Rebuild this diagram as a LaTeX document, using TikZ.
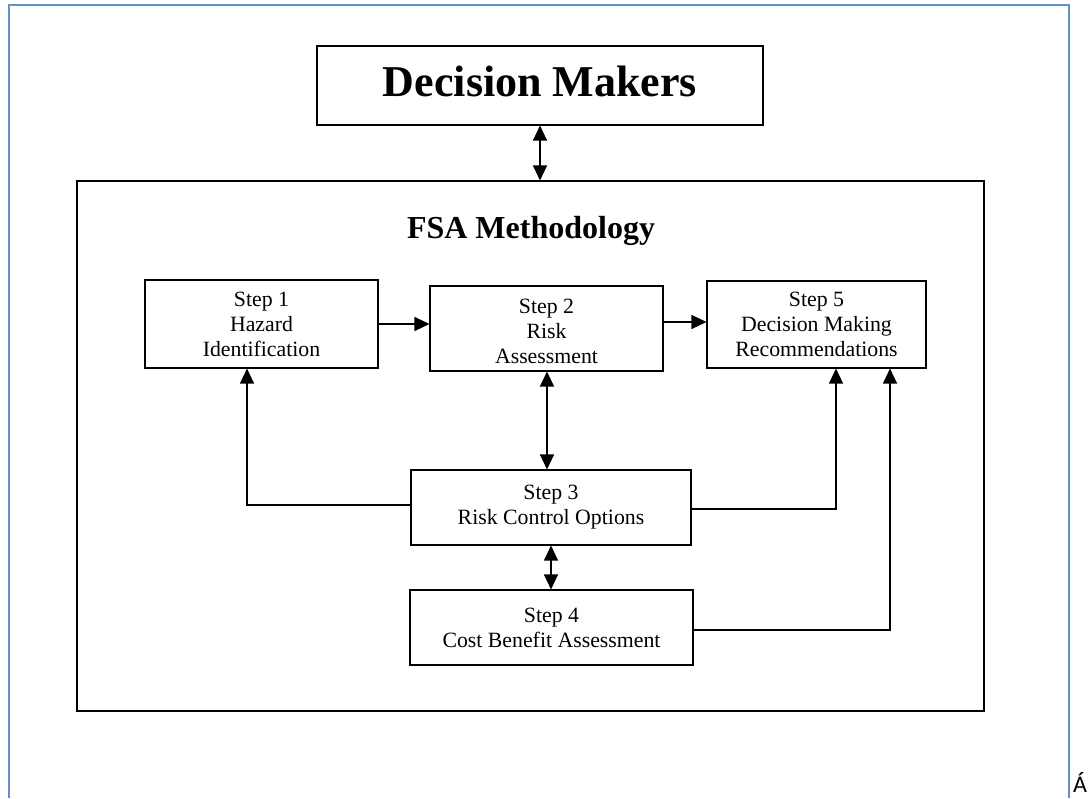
\documentclass[tikz,border=0pt]{standalone}
\usepackage{fontspec}
\setmainfont{Liberation Serif}
\newfontfamily\calfont{Carlito}
\usetikzlibrary{arrows.meta,calc}
\definecolor{frameblue}{RGB}{100,145,205}
\begin{document}
\begin{tikzpicture}[x=1pt,y=-1pt,
  box/.style={draw=black,line width=1.1pt,rectangle,inner sep=0pt,align=center,font=\fontsize{21.8}{25}\selectfont},
  conn/.style={line width=1.2pt,-{Triangle[length=15pt,width=14pt]}},
  dconn/.style={line width=1.2pt,{Triangle[length=15pt,width=14pt]}-{Triangle[length=15pt,width=14pt]}}]
\useasboundingbox (0,0) rectangle (1092,798);
\fill[white] (0,0) rectangle (1092,798);
% outer frame
\draw[frameblue,line width=2.5pt] (9,798) -- (9,5) -- (1069,5) -- (1069,798);
\node[anchor=base west,font=\calfont\fontsize{24}{24}\selectfont,inner sep=0pt] (acc) at (1073,792) {Á};
% nodes
\node[box,minimum width=446pt,minimum height=79pt] (dm) at (540,85.5) {};
\node[font=\bfseries\fontsize{44}{48}\selectfont,inner sep=0pt] (dmtext) at (540,81) {Decision Makers};
\node[box,minimum width=907pt,minimum height=530pt] (fsa) at (530.5,446) {};
\node[font=\bfseries\fontsize{32}{36}\selectfont,inner sep=0pt] (title) at (531,231) {FSA Methodology};
\node[box,minimum width=233pt,minimum height=88pt] (s1) at (261.5,324) {Step 1\\Hazard\\Identification};
\node[box,minimum width=233pt,minimum height=85pt] (s2) at (546.5,328.5) {};
\node[align=center,font=\fontsize{21.8}{25}\selectfont,inner sep=0pt] (s2text) at (546.5,331) {Step 2\\Risk\\Assessment};
\node[box,minimum width=219pt,minimum height=87pt] (s5) at (816.5,324.5) {Step 5\\Decision Making\\Recommendations};
\node[box,minimum width=280pt,minimum height=75pt] (s3) at (551,507.5) {Step 3\\Risk Control Options};
\node[box,minimum width=283pt,minimum height=75pt] (s4) at (551.5,627.5) {Step 4\\Cost Benefit Assessment};
% connectors
\draw[dconn] (dm.south) -- (dm.south |- fsa.north);
\draw[conn] (s1.east) -- (s1.east -| s2.west);
\draw[conn] ([yshift=6.5pt]s2.east) -- ([yshift=6.5pt]s2.east -| s5.west);
\draw[dconn] ([xshift=0.5pt]s2.south) -- ([xshift=0.5pt]s2.south |- s3.north);
\draw[dconn] (s3.south) -- (s3.south |- s4.north);
\coordinate (c31) at ([xshift=-14.5pt]s1.south);
\draw[conn] ([yshift=2.5pt]s3.west) -| (c31);
\coordinate (c35) at ([xshift=19.5pt]s5.south);
\draw[conn] ([yshift=-1.5pt]s3.east) -| (c35);
\coordinate (c45) at ([xshift=73.5pt]s5.south);
\draw[conn] ([yshift=-2.5pt]s4.east) -| (c45);
\end{tikzpicture}
\end{document}
